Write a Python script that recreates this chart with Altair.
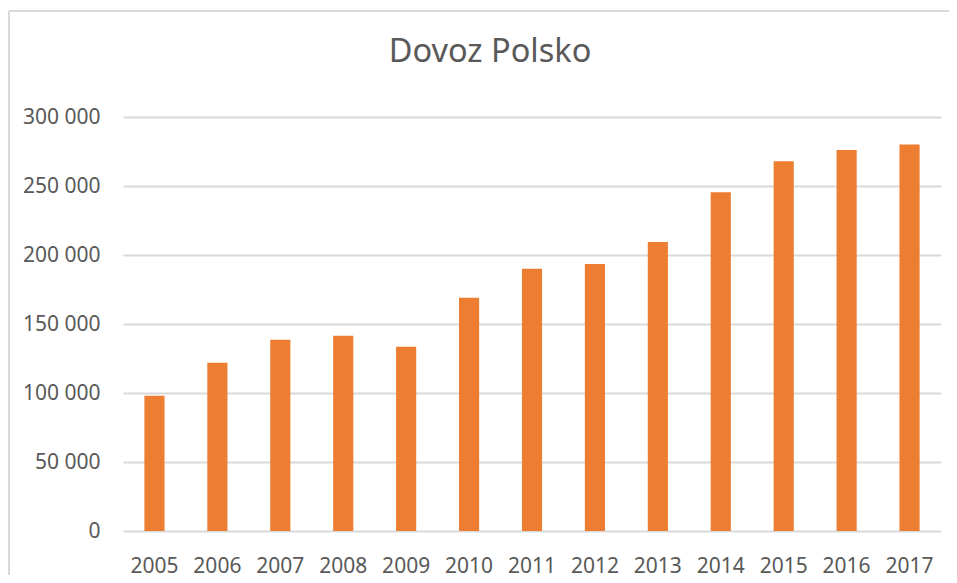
import altair as alt
import pandas as pd

years = ["2005", "2006", "2007", "2008", "2009", "2010", "2011", "2012",
         "2013", "2014", "2015", "2016", "2017"]
values = [98000, 122000, 138500, 141500, 133500, 169000, 190000, 193500,
          209500, 245500, 268000, 276000, 280000]
y_ticks = [0, 50000, 100000, 150000, 200000, 250000, 300000]
title_text = "Dovoz Polsko"

df = pd.DataFrame({"year": years, "value": values})

FONT = "Noto Sans"
GREY = "#595959"
GRID = "#d9d9d9"

bars = alt.Chart(df).mark_bar(color="#ED7D31").encode(
    x=alt.X("year:N", sort=years, title=None,
            scale=alt.Scale(paddingInner=0.68, paddingOuter=0.34),
            axis=alt.Axis(labelAngle=0, ticks=False, domain=False,
                          labelPadding=24, labelFontSize=21, labelColor=GREY,
                          labelFont=FONT, grid=False)),
    y=alt.Y("value:Q", title=None,
            scale=alt.Scale(domain=[0, 300000], nice=False),
            axis=alt.Axis(values=y_ticks, ticks=False, domain=False,
                          labelPadding=23, labelFontSize=21, labelColor=GREY,
                          labelFont=FONT, gridColor=GRID, gridWidth=2,
                          labelExpr="replace(format(datum.value, ','), ',', ' ')")),
)

frame_data = alt.Data(values=[{"t": title_text}])
frame_left = alt.Chart(frame_data).mark_rule(color=GRID, strokeWidth=2).encode(
    x=alt.value(-114), y=alt.value(-106), y2=alt.value(600))
frame_top = alt.Chart(frame_data).mark_rule(color=GRID, strokeWidth=2).encode(
    x=alt.value(-114), x2=alt.value(900), y=alt.value(-106))
title = alt.Chart(frame_data).mark_text(
    font=FONT, fontSize=32.5, color=GREY, align="center", baseline="alphabetic"
).encode(text="t:N", x=alt.value(367), y=alt.value(-55))

chart = alt.layer(frame_left, frame_top, title, bars).properties(
    width=818, height=414,
    autosize=alt.AutoSizeParams(type="none"),
    padding={"left": 115, "top": 109, "right": 8, "bottom": 44},
).configure_view(stroke=None)

chart.save("out.html", embed_options={"renderer": "svg", "actions": False})
